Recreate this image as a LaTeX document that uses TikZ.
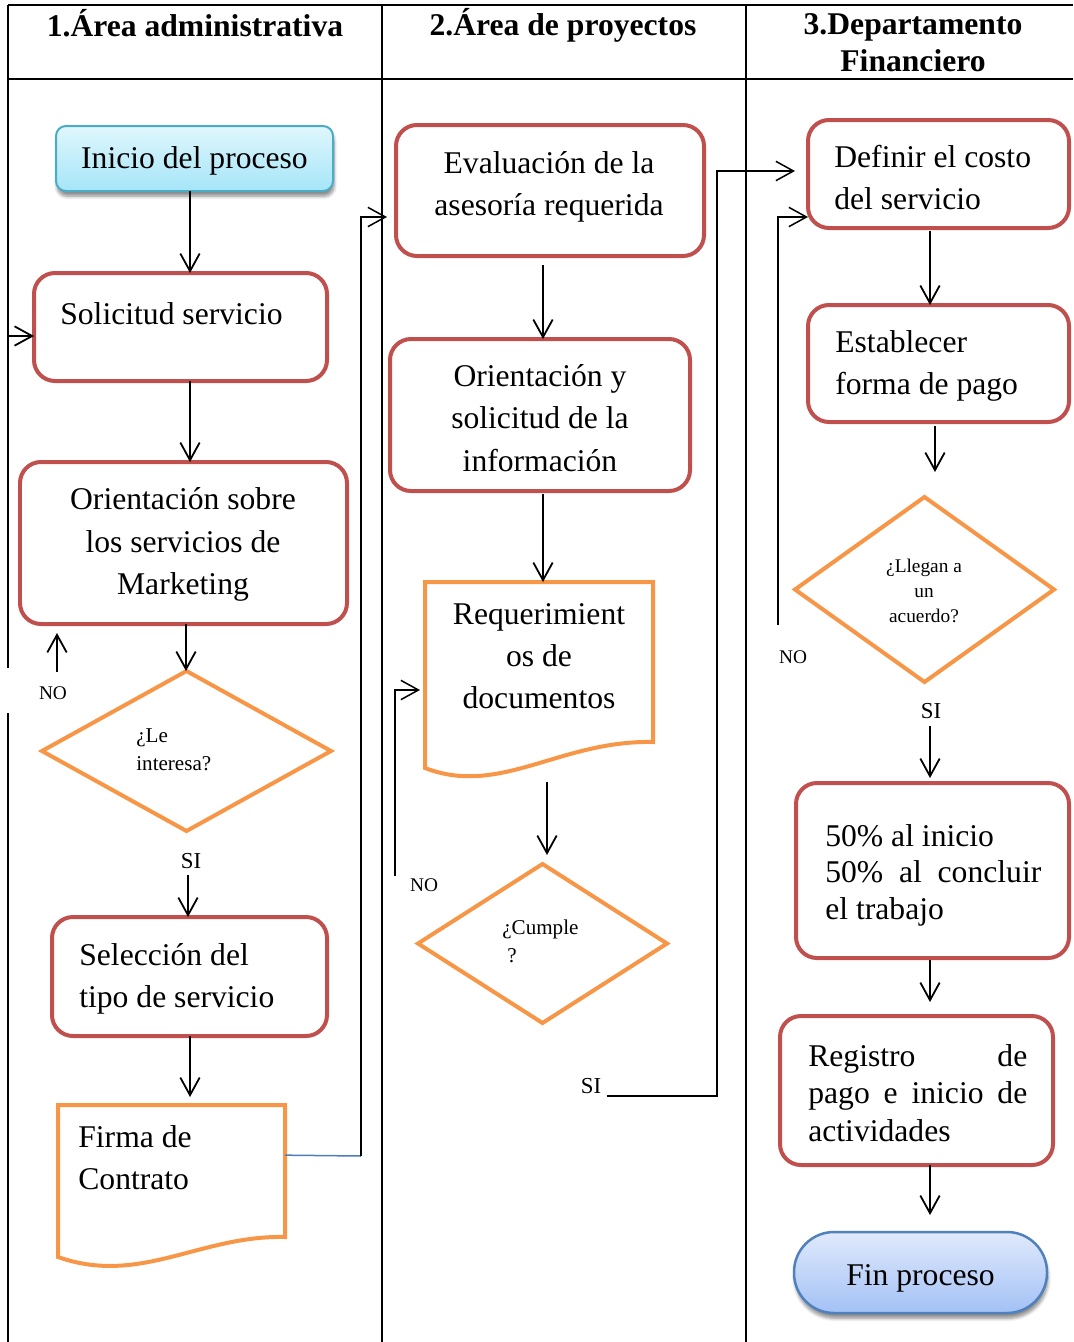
\documentclass[tikz,border=0pt]{standalone}
\usepackage{fontspec}
\setmainfont{Liberation Serif}
\usetikzlibrary{arrows.meta,shadows,shadows.blur,calc}

\definecolor{boxred}{HTML}{C0504D}
\definecolor{docorange}{HTML}{F79646}
\definecolor{startborder}{HTML}{4BACC6}
\definecolor{starttop}{HTML}{E0F7FD}
\definecolor{startbot}{HTML}{A5E5F8}
\definecolor{endborder}{HTML}{4F81BD}
\definecolor{endtop}{HTML}{E0EAFC}
\definecolor{endbot}{HTML}{A3C1F5}
\definecolor{linkblue}{HTML}{4A7EBB}

\tikzset{
  sz/.style 2 args={minimum width=#1*0.02cm, minimum height=#2*0.02cm},
  frame/.style={inner sep=0pt, outer sep=0pt},
  redbox/.style={frame, draw=boxred, line width=0.08cm, rounded corners=0.42cm},
  docline/.style={draw=docorange, line width=0.08cm, line join=miter},
  arr/.style={line width=0.036cm, -{Straight Barb[length=10pt,width=11pt]}},
  tbl/.style={line width=0.045cm},
  big/.style={font=\fontsize{18}{24}\selectfont, inner sep=0pt},
  head/.style={font=\bfseries\fontsize{18}{21}\selectfont, inner sep=0pt, align=center},
  small/.style={font=\fontsize{12}{16}\selectfont, inner sep=0pt, align=left},
  lbl/.style={font=\fontsize{11}{13}\selectfont, inner sep=0pt},
  silbl/.style={font=\fontsize{13}{15}\selectfont, inner sep=0pt},
  softshadow/.style={blur shadow={shadow xshift=0.6pt, shadow yshift=-3pt, shadow blur steps=6, shadow opacity=45}},
}

\begin{document}
\begin{tikzpicture}[x=0.02cm, y=-0.02cm]
\useasboundingbox (0,0) rectangle (1073,1342);

% swimlane table
\draw[tbl] (8,5) -- (1073,5);
\draw[tbl] (8,79) -- (1073,79);
\draw[tbl] (8,5) -- (8,668);
\draw[tbl] (8,713) -- (8,1342);
\draw[tbl] (382,5) -- (382,1342);
\draw[tbl] (746,5) -- (746,1342);

\node[head] (h1) at (195,23) {1.Área administrativa};
\node[head] (h2) at (563,25) {2.Área de proyectos};
\node[head] (h3) at (913,43) {3.Departamento\\Financiero};

% ---- lane 1
\node[frame, sz={277}{65}, draw=startborder, line width=0.04cm, rounded corners=0.2cm,
      top color=starttop, bottom color=startbot, softshadow, big,
      text height=0.5cm, text depth=0.08cm] (ini) at (194.5,158.5) {Inicio del proceso};

\node[redbox, sz={293}{108}] (sol) at (180.5,327) {};
\node[big, anchor=west] (solT) at (60,314) {Solicitud servicio};

\node[redbox, sz={327}{162}] (ori) at (183.5,543) {};
\node[big, align=center] (oriT) at (183,544.5) {Orientación sobre\\los servicios de\\Marketing};

\node[frame, sz={289}{160}] (q1) at (186.5,751) {};
\draw[docline] (q1.west) -- (q1.north) -- (q1.east) -- (q1.south) -- cycle;
\node[small, anchor=west] (q1T) at (136,749.5) {¿Le\\interesa?};

\node[silbl] (si1) at (191,861) {SI};

\node[redbox, sz={275}{119}] (sel) at (189.5,976.5) {};
\node[big, anchor=west, align=left] (selT) at (79,978.5) {Selección del\\tipo de servicio};

\node[frame, sz={227}{152}] (firma) at (171.5,1181) {};
\draw[docline] (firma.south west) -- (firma.north west) -- (firma.north east) -- (285,1237)
   .. controls (200,1235) and (140,1286) .. (firma.south west) -- cycle;
\node[big, anchor=west, align=left] (firmaT) at (78,1158) {Firma de\\Contrato};

\node[lbl] (no1) at (53,693) {NO};

% ---- lane 2
\node[redbox, sz={308}{131}] (eval) at (550,190.5) {};
\node[big, align=center] (evalT) at (549,186.5) {Evaluación de la\\asesoría requerida};

\node[redbox, sz={300}{152}] (oriy) at (540,415) {};
\node[big, align=center] (oriyT) at (540,418) {Orientación y\\solicitud de la\\información};

\node[frame, sz={228}{186}] (req) at (539,675) {};
\draw[docline] (req.south west) -- (req.north west) -- (req.north east) -- (653,742)
   .. controls (560,740) and (500,797) .. (req.south west) -- cycle;
\node[big, align=center] (reqT) at (539,656) {Requerimient\\os de\\documentos};

\node[frame, sz={249}{159}] (q2) at (542.5,943.5) {};
\draw[docline] (q2.west) -- (q2.north) -- (q2.east) -- (q2.south) -- cycle;
\node[small, anchor=west] (q2T) at (502,941) {¿Cumple\\\hspace*{0.1cm}?};

\node[lbl] (no2) at (424,885) {NO};
\node[silbl] (si2) at (591,1086) {SI};

% ---- lane 3
\node[redbox, sz={261}{108}] (def) at (938.5,174) {};
\node[big, anchor=west, align=left] (defT) at (834,177.5) {Definir el costo\\del servicio};

\node[redbox, sz={261}{117}] (est) at (938.5,363.5) {};
\node[big, anchor=west, align=left] (estT) at (835,366) {Establecer\\forma de pago};

\node[frame, sz={259}{185}] (q3) at (924.5,589.5) {};
\draw[docline] (q3.west) -- (q3.north) -- (q3.east) -- (q3.south) -- cycle;
\node[lbl, align=center, font=\fontsize{11}{14.2}\selectfont] (q3T) at (924,591) {¿Llegan a\\un\\acuerdo?};

\node[lbl] (no3) at (793,657) {NO};
\node[silbl] (si3) at (931,711) {SI};

\node[redbox, sz={273}{175}] (pct) at (932.5,870.5) {};
\node[big, anchor=west, align=left, font=\fontsize{18}{20.8}\selectfont] (pctT) at (825,875)
  {50\% al inicio\\\makebox[4.32cm][s]{50\% al concluir}\\el trabajo};

\node[redbox, sz={273}{149}] (reg) at (916.5,1090.5) {};
\node[big, anchor=west, align=left, font=\fontsize{18}{21.3}\selectfont] (regT) at (808,1093)
  {\makebox[4.38cm][s]{Registro de}\\\makebox[4.38cm][s]{pago e inicio de}\\actividades};

\node[frame, sz={253}{81}, draw=endborder, line width=0.05cm, rounded corners=0.8cm,
      top color=endtop, bottom color=endbot, softshadow, big,
      text height=0.55cm, text depth=0.05cm] (fin) at (920.5,1272.5) {Fin proceso};

% ---- connectors
\coordinate (xa) at (190,0);
\coordinate (xb) at (186,0);
\coordinate (xc) at (188,0);
\coordinate (xd) at (543,0);
\coordinate (xe) at (547,0);
\coordinate (xf) at (930,0);
\coordinate (xg) at (935,0);

\draw[arr] (ini.south -| xa) -- (sol.north -| xa);
\draw[arr] (sol.south -| xa) -- (ori.north -| xa);
\draw[arr] (ori.south -| xb) -- (q1.north -| xb);
\draw[arr, shorten <=0.12cm] (si1.south -| xc) -- (sel.north -| xc);
\draw[arr, shorten >=0.16cm] (sel.south -| xa) -- (firma.north -| xa);

\coordinate (lb) at (8,336);
\draw[arr] (lb) -- (lb -| sol.west);
\coordinate (n1) at (57,672);
\draw[arr, shorten >=0.18cm] (n1) -- (n1 |- ori.south);

\coordinate (k1) at (361,1156);
\coordinate (k2) at (361,217);
\draw[linkblue, line width=0.03cm] ($(firma.north east)!0.33!(firma.south east)$) -- (k1);
\draw[arr, line width=0.03cm, shorten >=0.18cm] (k1) -- (k2) -- (k2 -| eval.west);

\draw[arr, shorten <=0.18cm] (eval.south -| xd) -- (oriy.north -| xd);
\draw[arr, shorten <=0.06cm] (oriy.south -| xd) -- (req.north -| xd);
\coordinate (re) at (547,782);
\draw[arr, shorten >=0.18cm] (re) -- (q2.north -| xe);

\coordinate (n2a) at (395,876);
\coordinate (n2b) at (395,690);
\draw[arr, line width=0.03cm, shorten >=0.1cm] (n2a) -- (n2b) -- (n2b -| req.west);

\coordinate (s2a) at (607,1096);
\coordinate (s2b) at (717,1096);
\coordinate (s2c) at (717,171);
\draw[arr, line width=0.03cm, shorten >=0.26cm] (s2a) -- (s2b) -- (s2c) -- (s2c -| def.west);

\draw[arr, shorten <=0.06cm] (def.south -| xf) -- (est.north -| xf);
\draw[arr, shorten <=0.08cm, shorten >=0.5cm] (est.south -| xg) -- (q3.north -| xg);

\coordinate (n3a) at (778,625);
\coordinate (n3b) at (778,217);
\draw[arr, line width=0.03cm] (n3a) -- (n3b) -- (n3b -| def.west);

\draw[arr, shorten <=0.14cm, shorten >=0.1cm] (si3.south -| xf) -- (pct.north -| xf);
\draw[arr, shorten <=0.04cm, shorten >=0.28cm] (pct.south -| xf) -- (reg.north -| xf);
\draw[arr, shorten >=0.34cm] (reg.south -| xf) -- (fin.north -| xf);
\end{tikzpicture}
\end{document}
